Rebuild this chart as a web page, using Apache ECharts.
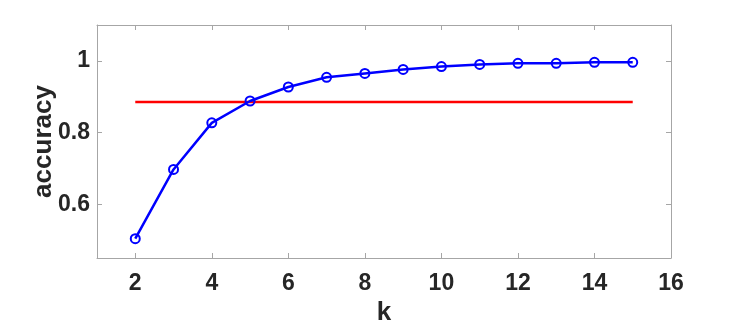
<!DOCTYPE html>
<html>
<head>
<meta charset="utf-8">
<script src="https://cdn.jsdelivr.net/npm/echarts@6/dist/echarts.min.js"></script>
<style>
html,body{margin:0;padding:0;background:#fff;}
#chart{width:742px;height:327px;}
</style>
</head>
<body>
<div id="chart"></div>
<script>
var kValues = [2, 3, 4, 5, 6, 7, 8, 9, 10, 11, 12, 13, 14, 15];
var accuracy = [0.504, 0.697, 0.827, 0.888, 0.927, 0.954, 0.965, 0.976, 0.984, 0.990, 0.993, 0.993, 0.996, 0.996];
var baselineK = [2, 15];
var baselineAcc = [0.885, 0.885];
var xTicks = [2, 4, 6, 8, 10, 12, 14, 16];
var yTicks = [0.6, 0.8, 1];

var FONT = '"Liberation Sans", Arial, sans-serif';
var TXT = '#262626';
var BOX = '#a6a6a6';

var chart = echarts.init(document.getElementById('chart'));

function axisBase(extra) {
  var a = {
    type: 'value',
    axisLine: { show: true, onZero: false, lineStyle: { color: BOX, width: 1 } },
    axisTick: { show: true, inside: true, length: 5, lineStyle: { color: BOX, width: 1 } },
    splitLine: { show: false },
    axisLabel: { show: false }
  };
  for (var k in extra) a[k] = extra[k];
  return a;
}

var option = {
  animation: false,
  backgroundColor: '#fff',
  grid: { left: 97, right: 71, top: 25, bottom: 69, containLabel: false, outerBoundsMode: 'none' },
  xAxis: [
    axisBase({
      min: 1, max: 16, position: 'bottom',
      name: 'k', nameLocation: 'middle', nameGap: 42, nameMoveOverlap: false,
      nameTextStyle: { fontFamily: FONT, fontWeight: 'bold', fontSize: 26, color: TXT },
      axisTick: { show: true, inside: true, length: 5, customValues: xTicks, lineStyle: { color: BOX, width: 1 } },
      axisLabel: { show: true, customValues: xTicks, margin: 14, fontFamily: FONT, fontWeight: 'bold', fontSize: 23, color: TXT }
    }),
    axisBase({
      min: 1, max: 16, position: 'top',
      axisTick: { show: true, inside: true, length: 5, customValues: xTicks, lineStyle: { color: BOX, width: 1 } }
    })
  ],
  yAxis: [
    axisBase({
      min: 0.45, max: 1.1, position: 'left',
      name: 'accuracy', nameLocation: 'middle', nameGap: 53, nameRotate: 90, nameMoveOverlap: false,
      nameTextStyle: { fontFamily: FONT, fontWeight: 'bold', fontSize: 26, color: TXT, verticalAlign: 'middle' },
      axisTick: { show: true, inside: true, length: 5, customValues: yTicks, lineStyle: { color: BOX, width: 1 } },
      axisLabel: { show: true, customValues: yTicks, margin: 7, fontFamily: FONT, fontWeight: 'bold', fontSize: 23, color: TXT,
        formatter: function (v) { return String(Math.round(v * 10) / 10); } }
    }),
    axisBase({
      min: 0.45, max: 1.1, position: 'right',
      axisTick: { show: true, inside: true, length: 5, customValues: yTicks, lineStyle: { color: BOX, width: 1 } }
    })
  ],
  series: [
    {
      type: 'line',
      xAxisIndex: 0, yAxisIndex: 0,
      data: baselineK.map(function (k, i) { return [k, baselineAcc[i]]; }),
      showSymbol: false,
      symbol: 'none',
      lineStyle: { color: '#ff0000', width: 2.5 },
      z: 2
    },
    {
      type: 'line',
      xAxisIndex: 0, yAxisIndex: 0,
      data: kValues.map(function (k, i) { return [k, accuracy[i]]; }),
      symbol: 'circle',
      symbolSize: 9,
      showAllSymbol: true,
      lineStyle: { color: '#0000ff', width: 2.5 },
      itemStyle: { color: 'rgba(0,0,0,0)', borderColor: '#0000ff', borderWidth: 2 },
      z: 3
    }
  ]
};
chart.setOption(option);
</script>
</body>
</html>
